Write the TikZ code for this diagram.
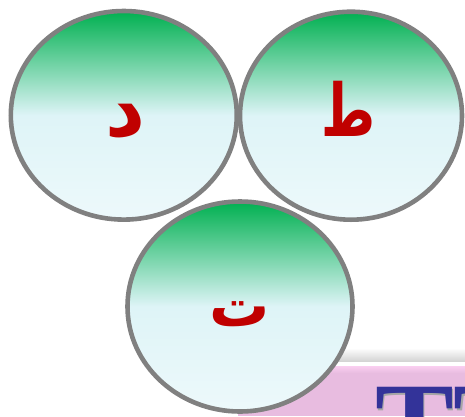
\documentclass[tikz,border=0pt]{standalone}
\usepackage{fontspec}
\TeXXeTstate=1
\newfontfamily\arabicfont[Script=Arabic]{DejaVu Sans}
\newfontfamily\serifb{Liberation Serif}
\definecolor{ringgray}{RGB}{128,128,128}
\definecolor{topgreen}{RGB}{0,176,80}
\definecolor{midcyan}{RGB}{222,244,247}
\definecolor{botcyan}{RGB}{237,249,251}
\definecolor{letterred}{RGB}{192,0,0}
\definecolor{pinkbox}{RGB}{232,188,224}
\definecolor{pinktop}{RGB}{250,206,240}
\definecolor{titleblue}{RGB}{51,51,153}
\definecolor{shadowgray}{RGB}{212,212,212}
\tikzset{
  bubble/.style={draw=ringgray, line width=4.6pt, top color=topgreen, bottom color=botcyan, middle color=midcyan},
  letter/.style={text=letterred, anchor=base, inner sep=0pt},
  titletext/.style={anchor=base west, inner sep=0pt, font=\fontsize{118}{120}\selectfont\serifb\bfseries}
}
\begin{document}
\begin{tikzpicture}[x=1pt,y=1pt]
\useasboundingbox (0,0) rectangle (465,-416);
\clip (0,0) rectangle (465,-416);
% background box lower right
\shade[top color=white, bottom color=shadowgray] (238,-348) rectangle (465,-361);
\fill[pinkbox] (238,-366) rectangle (465,-416);
\shade[top color=pinktop, bottom color=pinkbox] (238,-366) rectangle (465,-373);
\node[titletext, text=black!35] (titleshadow) at (376.5,-466.5) {TT};
\node[titletext, text=titleblue] (title) at (375,-464) {TT};
% circles
\path[bubble] (123.8,-115.3) ellipse [x radius=113, y radius=104.3];
\path[bubble] (351,-115.7) ellipse [x radius=111, y radius=104];
\path[bubble] (240,-306.5) ellipse [x radius=112.5, y radius=105];
\coordinate (cd) at (125.5,-136);
\coordinate (ct) at (348.5,-136);
\coordinate (cta) at (240,-326);
\node[letter, font=\fontsize{78}{80}\selectfont\arabicfont\bfseries] (dal) at (cd) {\beginR د\endR};
\node[letter, font=\fontsize{52}{60}\selectfont\arabicfont\bfseries, yscale=1.4, transform shape] (tah) at (ct) {\beginR ط\endR};
\node[letter, font=\fontsize{60}{62}\selectfont\arabicfont\bfseries] (teh) at (cta) {\beginR ت\endR};
\end{tikzpicture}
\end{document}
